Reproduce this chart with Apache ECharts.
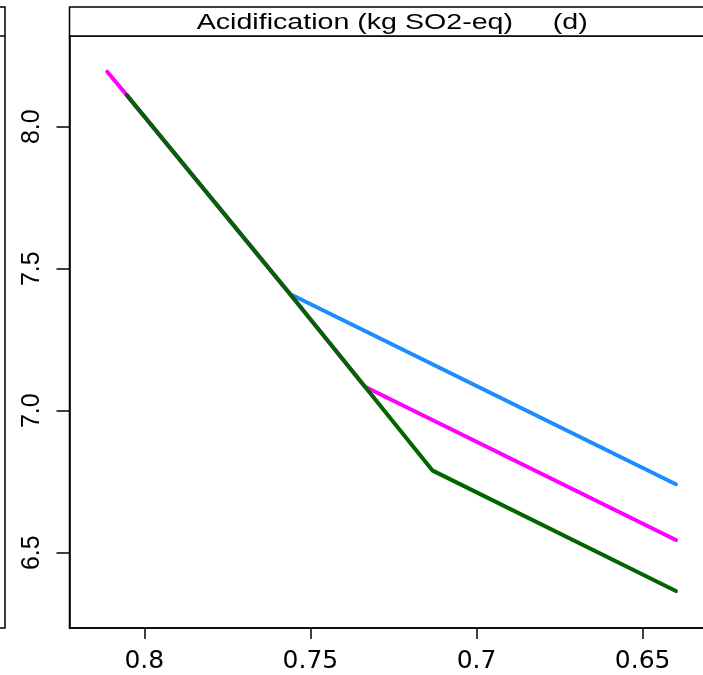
<!DOCTYPE html>
<html>
<head>
<meta charset="utf-8">
<script src="https://cdn.jsdelivr.net/npm/echarts@6/dist/echarts.min.js"></script>
<style>
html,body{margin:0;padding:0;background:#fff;}
#chart{width:703px;height:675px;}
</style>
</head>
<body>
<div id="chart"></div>
<script>
// ---- data ----
var panelTitle = 'Acidification (kg SO2-eq)     (d)';
var xTickValues = [0.8, 0.75, 0.7, 0.65];
var xTickLabels = ['0.8', '0.75', '0.7', '0.65'];
var yTickValues = [6.5, 7.0, 7.5, 8.0];
var yTickLabels = ['6.5', '7.0', '7.5', '8.0'];
var xRange = [0.62884, 0.82251];
var yRange = [6.2349, 8.3194];

var blueX    = [0.8053, 0.75615, 0.640];
var blueY    = [8.1116, 7.411, 6.741];
var magentaX = [0.81114, 0.8053, 0.75615, 0.73358, 0.640];
var magentaY = [8.1937, 8.1116, 7.411, 7.0845, 6.5447];
var greenX   = [0.8053, 0.75615, 0.73358, 0.7132, 0.640];
var greenY   = [8.1116, 7.411, 7.0845, 6.789, 6.365];

function pairs(xs, ys){ return xs.map(function(x,i){ return [x, ys[i]]; }); }
function labelFor(vals, labs){
  return function(v){
    for (var i=0;i<vals.length;i++){ if (Math.abs(vals[i]-v) < 1e-9) return labs[i]; }
    return '';
  };
}

var chart = echarts.init(document.getElementById('chart'), null, {renderer:'canvas'});
var lineBase = {type:'line', showSymbol:false, symbol:'none', animation:false,
  lineStyle:{width:4, cap:'round', join:'round'}};

chart.setOption({
  animation:false,
  backgroundColor:'#ffffff',
  grid:{left:69.5, top:36, width:643.5, height:592, outerBoundsMode:'none', containLabel:false,
    show:true, borderColor:'#000', borderWidth:1.5, backgroundColor:'transparent'},
  xAxis:{
    type:'value', inverse:true, min:xRange[0], max:xRange[1],
    splitLine:{show:false},
    axisLine:{show:true, onZero:false, lineStyle:{color:'#000', width:1.5}},
    axisTick:{show:true, customValues:xTickValues, length:11, lineStyle:{color:'#000', width:1.5}},
    axisLabel:{show:true, customValues:xTickValues, formatter:labelFor(xTickValues, xTickLabels),
      color:'#000', fontFamily:'DejaVu Sans', fontSize:25, margin:21}
  },
  yAxis:{
    type:'value', min:yRange[0], max:yRange[1],
    splitLine:{show:false},
    axisLine:{show:true, onZero:false, lineStyle:{color:'#000', width:1.5}},
    axisTick:{show:true, customValues:yTickValues, length:13, lineStyle:{color:'#000', width:1.5}},
    axisLabel:{show:true, customValues:yTickValues, formatter:labelFor(yTickValues, yTickLabels),
      rotate:90, color:'#000', fontFamily:'Liberation Sans', fontSize:25, margin:25}
  },
  graphic:[
    {type:'rect', shape:{x:69.5, y:7, width:660, height:29}, style:{fill:'#fff', stroke:'#000', lineWidth:1.5}, z:100},
    {type:'text', x:196.7, y:22.5, scaleX:1.30, scaleY:1, style:{text:panelTitle, x:0, y:0, fill:'#000',
      font:'22px "Liberation Sans", Arial, sans-serif', textAlign:'left', textVerticalAlign:'middle'}, z:101},
    {type:'polyline', shape:{points:[[0,7],[5,7],[5,628],[0,628]]}, style:{stroke:'#000', lineWidth:1.5, fill:null}, z:100},
    {type:'line', shape:{x1:0, y1:36, x2:5, y2:36}, style:{stroke:'#000', lineWidth:1.5}, z:100}
  ],
  series:[
    Object.assign({}, lineBase, {name:'Blue', data:pairs(blueX, blueY), lineStyle:Object.assign({}, lineBase.lineStyle, {color:'#1E8CFF'}), z:2}),
    Object.assign({}, lineBase, {name:'Magenta', data:pairs(magentaX, magentaY), lineStyle:Object.assign({}, lineBase.lineStyle, {color:'#FF00FF'}), z:3}),
    Object.assign({}, lineBase, {name:'Green', data:pairs(greenX, greenY), lineStyle:Object.assign({}, lineBase.lineStyle, {color:'#006400'}), z:4})
  ]
});
</script>
</body>
</html>
